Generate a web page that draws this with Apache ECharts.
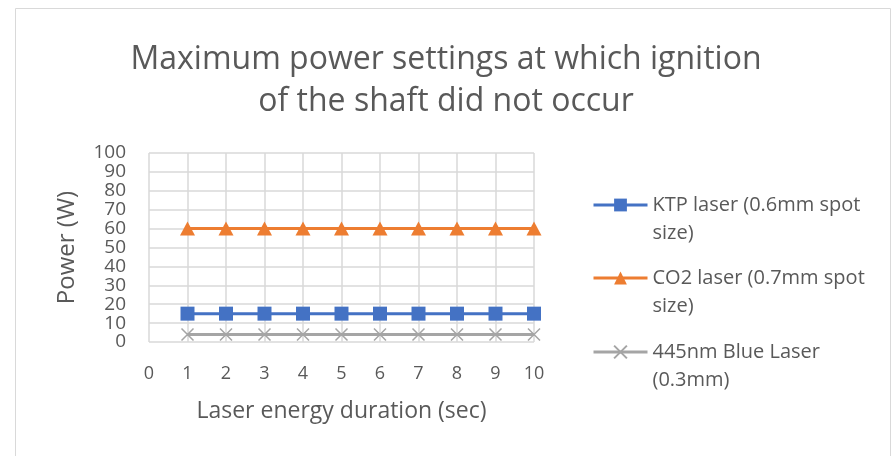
<!DOCTYPE html>
<html><head><meta charset="utf-8">
<script src="https://cdn.jsdelivr.net/npm/echarts@6/dist/echarts.min.js"></script>
<style>html,body{margin:0;padding:0;background:#fff}#c{width:892px;height:456px}</style>
</head><body><div id="c"></div>
<script>
const titleText = 'Maximum power settings at which ignition\nof the shaft did not occur';
const xValues = [1, 2, 3, 4, 5, 6, 7, 8, 9, 10];
const ktp = [15, 15, 15, 15, 15, 15, 15, 15, 15, 15];
const co2 = [60, 60, 60, 60, 60, 60, 60, 60, 60, 60];
const blue = [4, 4, 4, 4, 4, 4, 4, 4, 4, 4];
const seriesNames = ['KTP laser (0.6mm spot size)', 'CO2 laser (0.7mm spot size)', '445nm Blue Laser (0.3mm)'];
const legendLabels = ['KTP laser (0.6mm spot\nsize)', 'CO2 laser (0.7mm spot\nsize)', '445nm Blue Laser\n(0.3mm)'];
const xAxisName = 'Laser energy duration (sec)';
const yAxisName = 'Power (W)';

const FONT = 'Open Sans';
const TXT = '#595959';
const chart = echarts.init(document.getElementById('c'), null, {renderer: 'canvas'});
const pair = arr => xValues.map((x, i) => [x, arr[i]]);
const colors = ['#4472C4', '#ED7D31', '#A5A5A5'];
const LH = 28;
const legendCenters = [200, 273, 347];
chart.setOption({
  animation: false,
  textStyle: {fontFamily: FONT},
  graphic: [{type: 'rect', shape: {x: 15.5, y: 8.5, width: 875, height: 460}, style: {fill: 'none', stroke: '#d9d9d9', lineWidth: 1}, silent: true}],
  title: {text: titleText, left: 'center', top: 34, textStyle: {fontFamily: FONT, fontSize: 32, fontWeight: 'normal', color: TXT, lineHeight: 42}},
  grid: {left: 149, right: 358, top: 153, bottom: 114, containLabel: false},
  xAxis: {type: 'value', min: 0, max: 10, interval: 1,
    name: xAxisName, nameLocation: 'middle', nameGap: 58,
    nameTextStyle: {fontFamily: FONT, fontSize: 23, color: TXT},
    axisLine: {show: false}, axisTick: {show: false},
    axisLabel: {fontFamily: FONT, fontSize: 18, color: TXT, margin: 23},
    splitLine: {show: true, lineStyle: {color: '#d9d9d9', width: 1.5}}},
  yAxis: {type: 'value', min: 0, max: 100, interval: 10,
    name: yAxisName, nameLocation: 'middle', nameGap: 70,
    nameTextStyle: {fontFamily: FONT, fontSize: 24, color: TXT},
    axisLine: {show: false}, axisTick: {show: false},
    axisLabel: {fontFamily: FONT, fontSize: 19, color: TXT, margin: 23, lineHeight: 19},
    splitLine: {show: true, lineStyle: {color: '#d9d9d9', width: 1.5}}},
  legend: seriesNames.map((n, i) => ({
    data: [n], left: 587, top: legendCenters[i] - 1.5 * LH, orient: 'vertical',
    itemWidth: 54, itemHeight: 16, itemGap: 0,
    formatter: () => '\n' + legendLabels[i],
    lineStyle: {width: 3},
    textStyle: {fontFamily: FONT, fontSize: 20, color: TXT, lineHeight: LH}
  })),
  series: [
    {name: seriesNames[0], type: 'line', data: pair(ktp), color: colors[0], symbol: 'rect', symbolSize: 14,
      lineStyle: {width: 3, color: colors[0]}, itemStyle: {color: colors[0]}},
    {name: seriesNames[1], type: 'line', data: pair(co2), color: colors[1], symbol: 'triangle', symbolSize: [15, 14],
      lineStyle: {width: 3, color: colors[1]}, itemStyle: {color: colors[1]}},
    {name: seriesNames[2], type: 'line', data: pair(blue), color: colors[2], symbol: 'path://M0,0L10,10M10,0L0,10', symbolSize: 12,
      lineStyle: {width: 3, color: colors[2]}, itemStyle: {color: 'rgba(0,0,0,0)', borderColor: colors[2], borderWidth: 1.5}}
  ]
});
</script></body></html>
